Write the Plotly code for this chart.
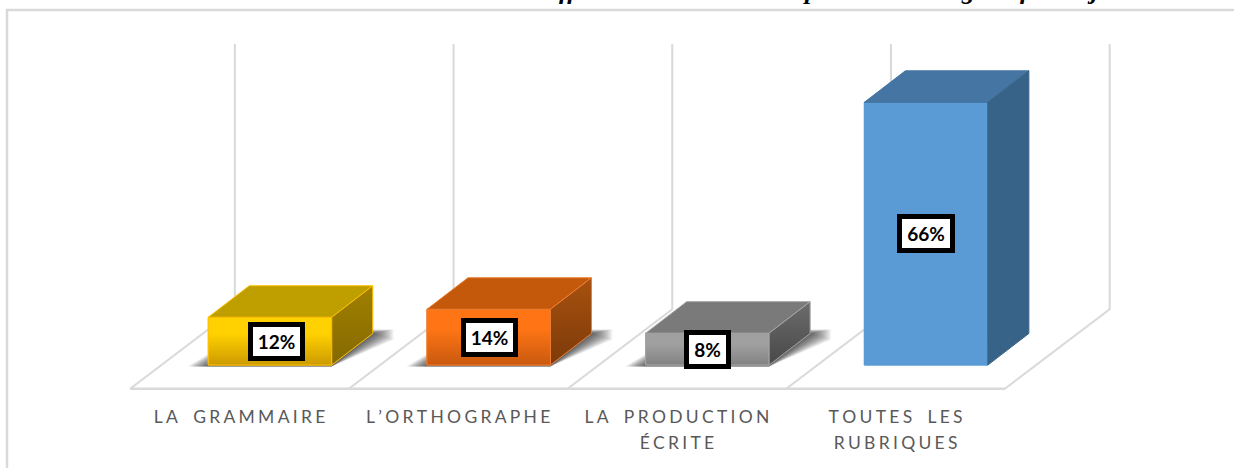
import plotly.graph_objects as go

categories = ["LA GRAMMAIRE", "L’ORTHOGRAPHE", "LA PRODUCTION<br>ÉCRITE", "TOUTES LES<br>RUBRIQUES"]
values = [12, 14, 8, 66]
front_top = ["#FFD100", "#FF7515", "#A0A0A0", "#5B9BD5"]
front_bottom = ["#CC9A00", "#C9590F", "#828282", "#5B9BD5"]
top_colors = ["#BF9E00", "#C4590C", "#7A7A7A", "#4575A2"]
side_top = ["#A08000", "#A8510F", "#6C6C6C", "#386388"]
side_bottom = ["#846900", "#7C3A09", "#484848", "#386388"]
edge_colors = ["#FFC000", "#ED7D31", "#A5A5A5", "#5B9BD5"]
top_edges = ["#FFC000", "#ED7D31", "#A5A5A5", "#4575A2"]
side_edges = ["#FFC000", "#ED7D31", "#A5A5A5", "#386388"]
has_shadow = [True, True, True, False]
label_shift = [6.5, 1, 0, 0]
label_width = [47, 47, 37, 48]
title_fragments = ["ff", "p", "g", "f", "j"]
title_x = [568, 810, 968, 1025, 1093]

W, H = 1234, 468
XU, YU = 218.7, 3.98
X0, Y0 = 239.5, 365.0


def ux(px):
    return px / XU


def uy(px):
    return px / YU


BAR_W = ux(123.5)
BAR_SHIFT = ux(30.5)
DX, DY = ux(41), uy(31.5)
FLOOR_Y = uy(365 - 388.7)
FDX, FDY = ux(104.7), uy(79.4)
WALL_TOP = uy(365 - 44)
GRID = "#D9D9D9"


def poly(pts):
    return "M" + " L".join(f"{x},{y}" for x, y in pts) + " Z"


shapes = []
# back walls and floor
for i in range(5):
    xf = i - 0.5
    xb = xf + FDX
    shapes.append(dict(type="path", path=f"M{xf},{FLOOR_Y} L{xb},{FLOOR_Y + FDY} L{xb},{WALL_TOP}",
                       line=dict(color=GRID, width=2), layer="below"))
shapes.append(dict(type="line", x0=-0.5, x1=3.5, y0=FLOOR_Y, y1=FLOOR_Y,
                   line=dict(color=GRID, width=2.5), layer="below"))
# chart frame, open on the right and at the bottom
shapes.append(dict(type="path", xref="paper", yref="paper",
                   path=f"M{7 / W},0 L{7 / W},{1 - 10 / H} L1,{1 - 10 / H}",
                   line=dict(color=GRID, width=2.5), layer="below"))

# floor shadows
for i, v in enumerate(values):
    if not has_shadow[i]:
        continue
    c = i + BAR_SHIFT
    x0, x1 = c - BAR_W / 2, c + BAR_W / 2
    for k in range(21, 0, -1):
        shapes.append(dict(
            type="path",
            path=poly([(x0 - ux(k), uy(-1.5)), (x1, uy(-1.5)),
                       (x1 + DX + ux(k), DY - uy(k * 0.3)),
                       (x1 + DX + ux(k), DY + uy(k * 0.2)),
                       (x0 + DX, DY + uy(k * 0.2))]),
            fillcolor="rgba(0,0,0,0.04)", line=dict(width=0), layer="below"))

fig = go.Figure()
centers = [i + BAR_SHIFT for i in range(len(values))]
fig.add_trace(go.Bar(x=centers, y=values, width=BAR_W,
                     marker=dict(color=front_top, line=dict(color=edge_colors, width=1)),
                     hoverinfo="skip", showlegend=False))

for i, v in enumerate(values):
    c = centers[i]
    x0, x1 = c - BAR_W / 2, c + BAR_W / 2
    # front gradient
    fig.add_trace(go.Scatter(
        x=[x0, x1, x1, x0, x0], y=[0, 0, v, v, 0], mode="lines", fill="toself",
        line=dict(color=edge_colors[i], width=1), hoverinfo="skip", showlegend=False,
        fillgradient=dict(type="vertical", start=v, stop=0,
                          colorscale=[[0, front_top[i]], [0.35, front_top[i]], [1, front_bottom[i]]])))
    # top face
    fig.add_trace(go.Scatter(
        x=[x0, x1, x1 + DX, x0 + DX, x0], y=[v, v, v + DY, v + DY, v], mode="lines", fill="toself",
        fillcolor=top_colors[i], line=dict(color=top_edges[i], width=1),
        hoverinfo="skip", showlegend=False))
    # side face
    fig.add_trace(go.Scatter(
        x=[x1, x1 + DX, x1 + DX, x1, x1], y=[0, DY, v + DY, v, 0], mode="lines", fill="toself",
        line=dict(color=side_edges[i], width=1), hoverinfo="skip", showlegend=False,
        fillgradient=dict(type="vertical", start=v + DY, stop=0,
                          colorscale=[[0, side_top[i]], [1, side_bottom[i]]])))

annotations = []
for i, v in enumerate(values):
    annotations.append(dict(
        x=centers[i], y=v / 2, xref="x", yref="y", xshift=label_shift[i],
        text=f"<b>{v}%</b>", showarrow=False, align="center", valign="middle",
        font=dict(family="Lato, Carlito, sans-serif", size=19, color="#000000"),
        bgcolor="#FFFFFF", bordercolor="#000000", borderwidth=5, borderpad=0,
        width=label_width[i], height=29))
for s, x in zip(title_fragments, title_x):
    annotations.append(dict(
        x=x / W, y=1 + 10 / H, xref="paper", yref="paper", text=f"<b><i>{s}</i></b>",
        showarrow=False, yanchor="middle", xanchor="center",
        font=dict(family="Liberation Serif", size=26, color="#000000")))

GAP = "\u2009\u200a"


def spaced(label):
    lines = label.split("<br>")
    return "<br>".join(
        '<span style="font-size:17.5px">' + GAP.join(ch if ch != " " else "\u2002" for ch in ln) + "</span>"
        for ln in lines)


fig.update_layout(
    width=W, height=H, margin=dict(l=0, r=0, t=0, b=0), autosize=False,
    paper_bgcolor="#FFFFFF", plot_bgcolor="#FFFFFF", showlegend=False,
    shapes=shapes, annotations=annotations, barmode="overlay",
    xaxis=dict(range=[ux(-X0), ux(W - X0)], tickmode="array", tickvals=list(range(len(categories))),
               ticktext=[spaced(c) for c in categories], showgrid=False, zeroline=False,
               showline=False, ticks="", anchor="free", position=(H - 402) / H,
               tickfont=dict(family="Lato, Carlito, sans-serif", size=20, color="#595959")),
    yaxis=dict(range=[uy(Y0 - H), uy(Y0)], visible=False, showgrid=False, zeroline=False),
)
fig.write_html("out.html", config=dict(displayModeBar=False),
               post_script="document.body.style.margin='0';document.body.style.overflow='hidden';")
